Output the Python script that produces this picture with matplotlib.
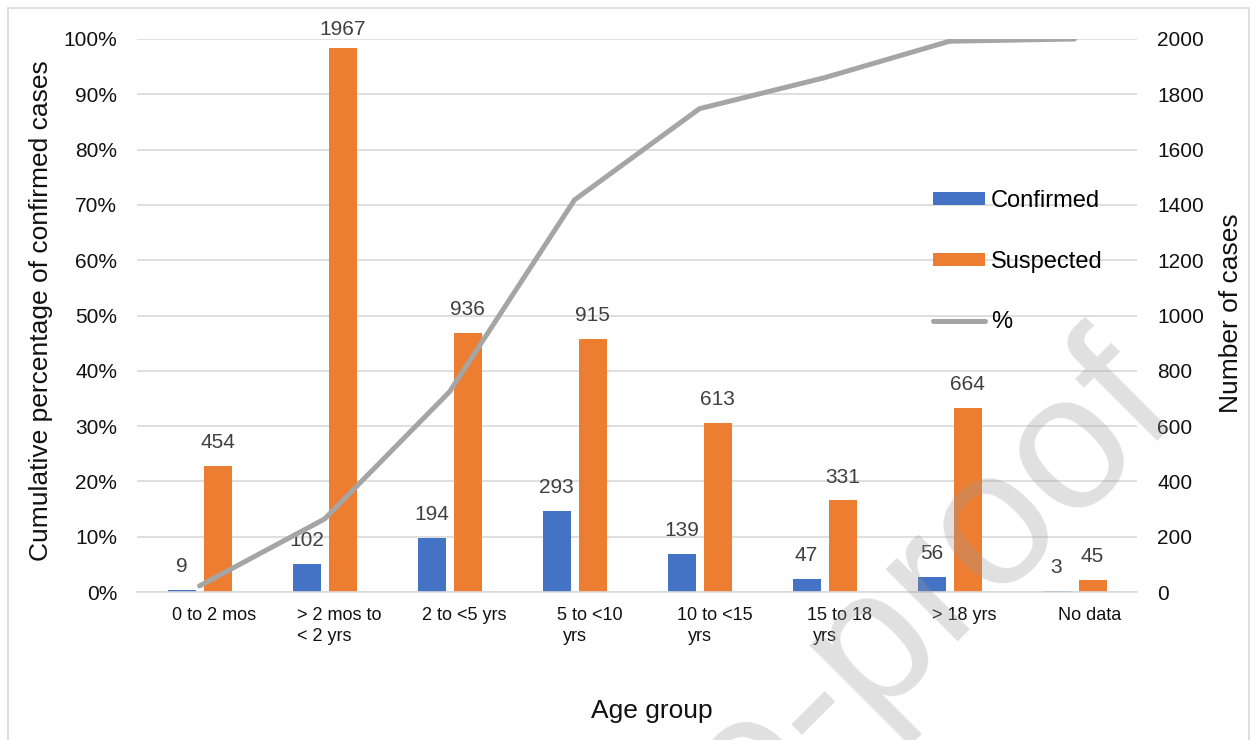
import matplotlib
matplotlib.use("Agg")
import matplotlib.pyplot as plt
import matplotlib.transforms as mtransforms
from matplotlib.patches import Rectangle, Patch
from matplotlib.lines import Line2D

plt.rcParams["font.family"] = ["Liberation Sans", "DejaVu Sans"]

# ---- data -------------------------------------------------------------
age_groups = ["0 to 2 mos", "> 2 mos to\n< 2 yrs", "2 to <5 yrs", "5 to <10\nyrs",
              "10 to <15\nyrs", "15 to 18\nyrs", "> 18 yrs", "No data"]
confirmed = [9, 102, 194, 293, 139, 47, 56, 3]
suspected = [454, 1967, 936, 915, 613, 331, 664, 45]
cumulative_pct = [1.1, 13.2, 36.2, 70.9, 87.4, 93.0, 99.6, 100.0]

BLUE = "#4472C4"
ORANGE = "#ED7D31"
GREY_LINE = "#A5A5A5"
GRID = "#D9D9D9"
LABEL_GREY = "#404040"

W, H = 1256, 740
fig = plt.figure(figsize=(W / 100, H / 100), dpi=100)


def fx(px):
    return px / W


def fy(py):
    return 1 - py / H


# outer chart frame
fig.patches.append(Rectangle((fx(8), fy(760)), fx(1249) - fx(8), fy(8) - fy(760),
                             transform=fig.transFigure, fill=False,
                             edgecolor=GRID, linewidth=1.2, zorder=0))

ax = fig.add_axes([fx(137), fy(592), fx(1137) - fx(137), fy(39) - fy(592)])
ax2 = ax.twinx()

x = list(range(len(age_groups)))
bw = 0.224
off = 0.144

# bars (number of cases) on the right-hand scale
ax.bar([i - off for i in x], confirmed, width=bw, color=BLUE, zorder=2, label="Confirmed")
ax.bar([i + off for i in x], suspected, width=bw, color=ORANGE, zorder=2, label="Suspected")

label_gap = 65      # ~18 px above the bar top
label_cap = 2014    # keep labels inside the chart area
for i, v in enumerate(confirmed):
    ax.text(i - off, min(v + label_gap, label_cap), str(v), ha="center", va="baseline",
            fontsize=15, color=LABEL_GREY, zorder=3)
for i, v in enumerate(suspected):
    ax.text(i + off, min(v + label_gap, label_cap), str(v), ha="center", va="baseline",
            fontsize=15, color=LABEL_GREY, zorder=3)

ax.set_xlim(-0.5, len(age_groups) - 0.5)
ax.set_ylim(0, 2000)
ax.set_yticks(range(0, 2001, 200))
ax.yaxis.tick_right()
ax.tick_params(axis="y", length=0, pad=14.4, labelsize=15, labelcolor="#111111")
ax.tick_params(axis="x", length=0, labelbottom=False)
ax.grid(axis="y", color=GRID, linewidth=1.2, zorder=0)
ax.set_axisbelow(True)
for side in ("top", "left", "right"):
    ax.spines[side].set_visible(False)
ax.spines["bottom"].set_color(GRID)
ax.spines["bottom"].set_linewidth(1.2)

# cumulative percentage line on the left-hand scale
ax2.plot(x, [p / 100 for p in cumulative_pct], color=GREY_LINE, linewidth=3.6,
         solid_capstyle="round", zorder=4, label="%")
ax2.set_ylim(0, 1)
ax2.set_yticks([i / 10 for i in range(11)])
ax2.set_yticklabels([f"{i * 10}%" for i in range(11)])
ax2.yaxis.tick_left()
ax2.tick_params(axis="y", length=0, pad=14.4, labelsize=15, labelcolor="#111111")
for side in ("top", "left", "right", "bottom"):
    ax2.spines[side].set_visible(False)

# category labels: first line nudged right, continuation lines centred
base = mtransforms.blended_transform_factory(ax.transData, fig.transFigure)
first_tr = mtransforms.offset_copy(base, fig=fig, x=15, y=0, units="dots")
for i, lab in enumerate(age_groups):
    lines = lab.split("\n")
    ax.text(i, fy(620), lines[0], transform=first_tr, ha="center", va="baseline",
            fontsize=13, color="#111111", clip_on=False)
    for k, ln in enumerate(lines[1:], start=1):
        ax.text(i, fy(620 + 21 * k), ln, transform=base, ha="center", va="baseline",
                fontsize=13, color="#111111", clip_on=False)

# axis titles
fig.text(fx(41), fy(311), "Cumulative percentage of confirmed cases", rotation=90,
         ha="center", va="center", fontsize=19, color="#111111")
fig.text(fx(1231), fy(313), "Number of cases", rotation=90,
         ha="center", va="center", fontsize=19, color="#111111")
fig.text(fx(652), fy(718), "Age group", ha="center", va="baseline",
         fontsize=19, color="#111111")

# legend
handles = [Patch(facecolor=BLUE, edgecolor="none"),
           Patch(facecolor=ORANGE, edgecolor="none"),
           Line2D([0], [0], color=GREY_LINE, linewidth=3.6, solid_capstyle="round")]
ax2.legend(handles, ["Confirmed", "Suspected", "%"], loc="upper left",
           bbox_to_anchor=(fx(933), fy(190)), bbox_transform=fig.transFigure,
           frameon=False, fontsize=17, handlelength=2.2, handleheight=0.5,
           handletextpad=0.25, labelspacing=1.64, borderpad=0, borderaxespad=0)

# watermark
fig.text(fx(1184), fy(415), "Journal Pre-proof", rotation=45, rotation_mode="anchor",
         ha="right", va="baseline", fontsize=139, color="#9a9a9a", alpha=0.3, zorder=20)

fig.savefig("out.png", dpi=100)
